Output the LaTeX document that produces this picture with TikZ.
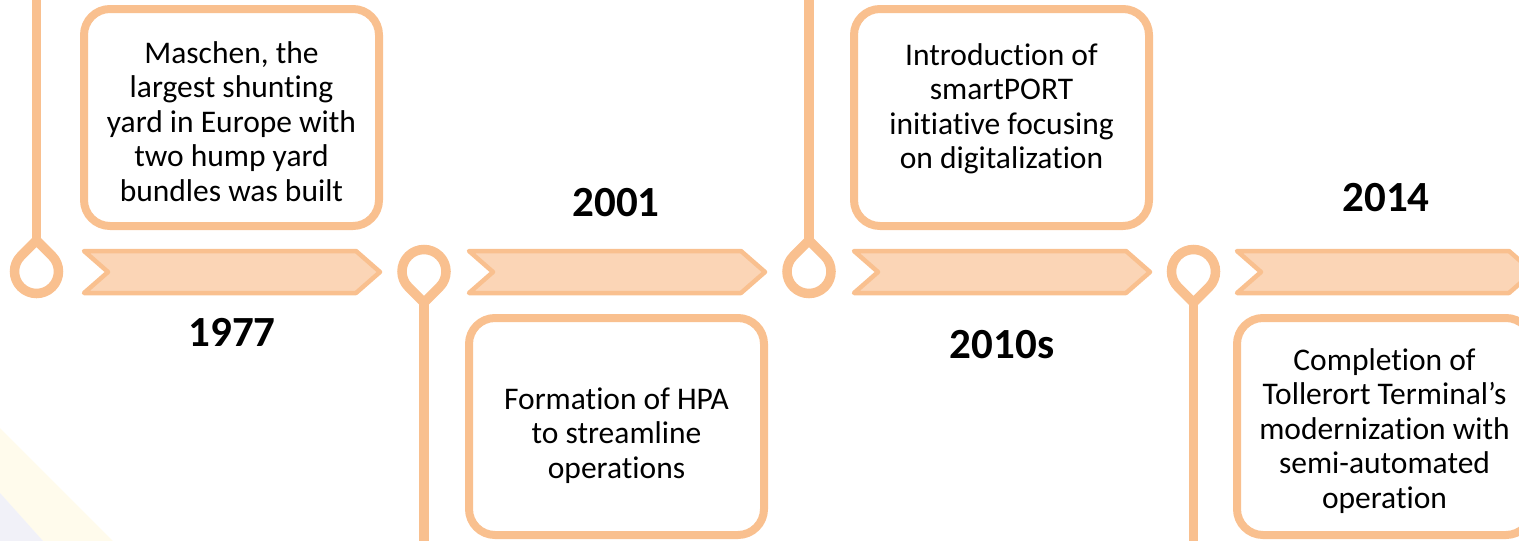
\documentclass[tikz,border=0pt]{standalone}
\usepackage{fontspec}
\setmainfont{Carlito}[Ligatures=CommonOff]
\definecolor{peach}{HTML}{F9C08F}
\definecolor{peachfill}{HTML}{FBD5B6}
\definecolor{hazeyellow}{HTML}{FFFBEC}
\definecolor{hazeblue}{HTML}{F1F1F8}
\begin{document}
\begin{tikzpicture}[x=1pt,y=-1pt,
  stem/.style={draw=peach, line width=9.5pt},
  pin/.style={draw=peach, fill=white, line width=9.5pt, line join=miter},
  chev/.style={draw=peach, fill=peachfill, line width=4.5pt, line join=round},
  card/.style={draw=peach, fill=white, line width=8pt, rounded corners=26pt,
               minimum width=295pt, minimum height=217pt, inner sep=0pt},
  cardtext/.style={align=center, inner sep=0pt, anchor=base,
                   font=\fontsize{31.5}{34.5}\selectfont},
  yearlbl/.style={inner sep=0pt, font=\fontsize{43}{50}\selectfont\bfseries}]
\useasboundingbox (0,0) rectangle (1519,541);
\clip (0,0) rectangle (1519,541);

% faint background streaks in the lower left corner
\fill[hazeyellow] (0,428) -- (113,541) -- (43,541) -- (0,493) -- cycle;
\fill[hazeblue] (0,493) -- (43,541) -- (0,541) -- cycle;

% stems leading to the pins
\coordinate (top1) at (36.5,0);
\coordinate (bot2) at (424,545);
\coordinate (top3) at (809,0);
\coordinate (bot4) at (1193.5,545);
\coordinate (tip1) at (36.5,240.39);
\coordinate (tip2) at (424,302.61);
\coordinate (tip3) at (809,240.39);
\coordinate (tip4) at (1193.5,302.61);
\draw[stem] (top1) -- (tip1);
\draw[stem] (tip2) -- (bot2);
\draw[stem] (top3) -- (tip3);
\draw[stem] (tip4) -- (bot4);

% pins: rings with a pointed tip towards the stem
\foreach \cx/\up in {36.5/1, 424/0, 809/1, 1193.5/0}{
  \begin{scope}[shift={(\cx,271.5)}, y=1pt]
    \ifnum\up=1
      \draw[pin] (0,31.113) -- (-15.556,15.556)
        arc[start angle=135, end angle=405, radius=22] -- cycle;
    \else
      \draw[pin] (0,-31.113) -- (15.556,-15.556)
        arc[start angle=-45, end angle=225, radius=22] -- cycle;
    \fi
  \end{scope}
}

% chevron arrows of the time line
\foreach \x in {84,469,854,1237}{
  \draw[chev] (\x,251) -- (\x+272,251) -- (\x+296,272) -- (\x+272,293)
    -- (\x,293) -- (\x+24,272) -- cycle;
}

% cards
\node[card] (c1) at (231.5,117.5) {};
\node[card] (c2) at (616.5,426.5) {};
\node[card] (c3) at (1001.5,117.5) {};
\node[card] (c4) at (1384.5,426.5) {};

% card texts (anchored at the baseline of their last line)
\node[cardtext] (t1) at (231.5,201) {Maschen, the\\largest shunting\\yard in Europe with\\two hump yard\\bundles was built};
\node[cardtext] (t2) at (616.5,478) {Formation of HPA\\to streamline\\operations};
\node[cardtext] (t3) at (1001.5,168.5) {Introduction of\\smartPORT\\initiative focusing\\on digitalization};
\node[cardtext] (t4) at (1384.5,508) {Completion of\\Tollerort Terminal’s\\modernization with\\semi-automated\\operation};

% years
\node[yearlbl] (y1) at (232,332.5) {1977};
\node[yearlbl] (y2) at (616,202.5) {2001};
\node[yearlbl] (y3) at (1002,345) {2010s};
\node[yearlbl] (y4) at (1386,197.5) {2014};
\end{tikzpicture}
\end{document}
